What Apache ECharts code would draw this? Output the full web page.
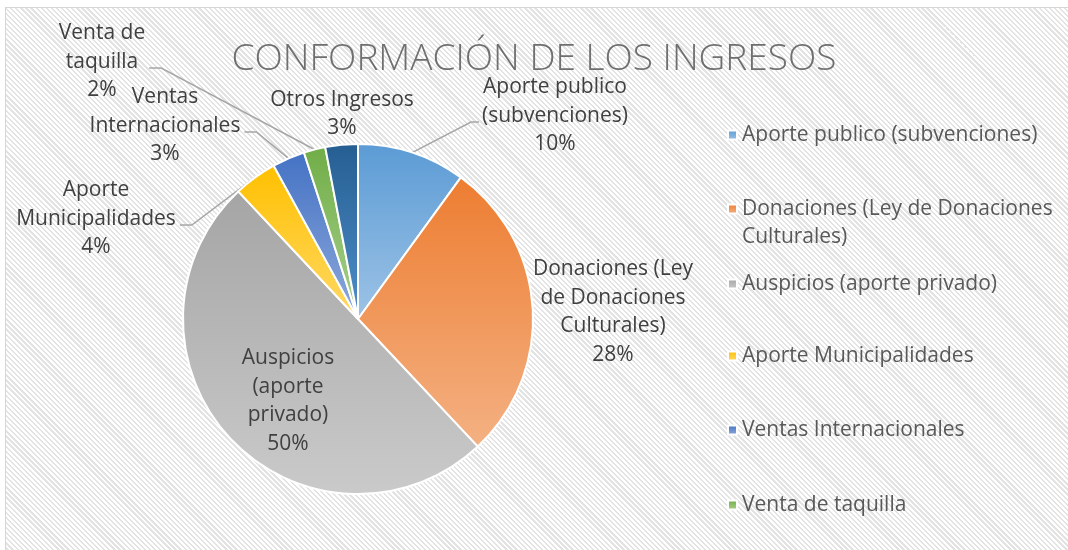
<!DOCTYPE html>
<html>
<head>
<meta charset="utf-8">
<script src="https://cdn.jsdelivr.net/npm/echarts@6/dist/echarts.min.js"></script>
<style>
  html, body { margin: 0; padding: 0; background: #ffffff; overflow: hidden; }
  #frame {
    position: absolute; left: 5px; top: 7px; width: 1100px; height: 600px;
    border: 1px solid #d6d6d6;
    background: repeating-linear-gradient(45deg, #ffffff 0px, #ffffff 2px, #e3e3e3 2px, #e3e3e3 3.6px);
  }
  #chart { position: absolute; left: 0; top: 0; width: 1068px; height: 550px; }
</style>
</head>
<body>
<div id="frame"></div>
<div id="chart"></div>
<script>
// ---- data ----
const titleText = 'CONFORMACIÓN DE LOS INGRESOS';
const categories = [
  'Aporte publico (subvenciones)',
  'Donaciones (Ley de Donaciones Culturales)',
  'Auspicios (aporte privado)',
  'Aporte Municipalidades',
  'Ventas Internacionales',
  'Venta de taquilla',
  'Otros Ingresos'
];
const values = [10, 28, 50, 4, 3, 2, 3];
const labelTexts = [
  'Aporte publico\n(subvenciones)',
  'Donaciones (Ley\nde Donaciones\nCulturales)',
  'Auspicios\n(aporte\nprivado)',
  'Aporte\nMunicipalidades',
  'Ventas\nInternacionales',
  'Venta de\ntaquilla',
  'Otros Ingresos'
];
const legendTexts = [
  'Aporte publico (subvenciones)',
  'Donaciones (Ley de Donaciones\nCulturales)',
  'Auspicios (aporte privado)',
  'Aporte Municipalidades',
  'Ventas Internacionales',
  'Venta de taquilla'
];
const colorsTop = ['#5b9bd5', '#ed7d31', '#a5a5a5', '#ffc000', '#4472c4', '#70ad47', '#255e91'];
const colorsBottom = ['#9dc3e6', '#f4b183', '#cacaca', '#ffd966', '#8faadc', '#a9d18e', '#4f8fcb'];

// ---- layout / style ----
const CX = 358, CY = 319, R = 175;
const FONT = "'Open Sans', 'Noto Sans', sans-serif";
const labelPos = [[555, 116], [613, 312], [288, 401], [96, 219], [165, 126], [102, 62], [342, 114]];
const showLine = [true, false, false, true, true, true, false];
const legendIconCenters = [135, 209, 284, 356, 430, 505];
const LH = 28;

function grad(i) {
  return new echarts.graphic.LinearGradient(0, 0, 0, 1, [
    { offset: 0, color: colorsTop[i] },
    { offset: 1, color: colorsBottom[i] }
  ]);
}

const pieData = categories.map((name, i) => ({
  name: name,
  value: values[i],
  itemStyle: { color: grad(i) },
  label: { position: i === 2 ? 'inside' : 'outside' },
  labelLine: { show: showLine[i] }
}));

const legends = legendTexts.map((txt, i) => {
  const twoLine = txt.indexOf('\n') >= 0;
  // a wrapped entry keeps its marker on the first line: pad with an empty line above
  const shown = twoLine ? '\n' + txt : txt;
  const h = twoLine ? LH * 3 : LH;
  return {
    data: [categories[i]],
    orient: 'vertical',
    left: 727,
    top: legendIconCenters[i] - h / 2,
    padding: 0,
    itemWidth: 9,
    itemHeight: 9,
    icon: 'rect',
    selectedMode: false,
    formatter: () => shown,
    textStyle: {
      color: '#595959', fontFamily: FONT, fontSize: 21, lineHeight: LH
    }
  };
});

const chart = echarts.init(document.getElementById('chart'), null, { renderer: 'canvas' });
chart.setOption({
  backgroundColor: 'transparent',
  animation: false,
  title: {
    text: titleText,
    left: 'center',
    top: 36,
    padding: [5, 0, 5, 22],
    textStyle: { fontFamily: FONT, fontWeight: 300, fontSize: 37, color: '#6f6f6f' }
  },
  legend: legends,
  series: [{
    type: 'pie',
    center: [CX, CY],
    radius: R,
    startAngle: 90,
    clockwise: true,
    avoidLabelOverlap: false,
    percentPrecision: 0,
    emphasis: { disabled: true },
    itemStyle: { borderColor: '#ffffff', borderWidth: 2 },
    label: {
      color: '#404040', fontFamily: FONT, fontSize: 21, lineHeight: 28.5,
      formatter: p => labelTexts[p.dataIndex] + '\n' + p.percent + '%'
    },
    labelLine: { length: 15, length2: 10, lineStyle: { color: '#a6a6a6', width: 1.5 } },
    labelLayout: function (p) {
      const pos = labelPos[p.dataIndex];
      const res = { x: pos[0], y: pos[1], align: 'center', verticalAlign: 'middle' };
      if (showLine[p.dataIndex] && p.labelLinePoints) {
        const w = p.labelRect.width;
        const onLeft = pos[0] < CX;
        const edgeX = onLeft ? pos[0] + w / 2 + 4 : pos[0] - w / 2 - 3;
        const elbowX = onLeft ? edgeX + 12 : edgeX - 8;
        const yy = pos[1] + 6;
        res.labelLinePoints = [p.labelLinePoints[0], [elbowX, yy], [edgeX, yy]];
      }
      return res;
    },
    data: pieData
  }]
});
</script>
</body>
</html>
